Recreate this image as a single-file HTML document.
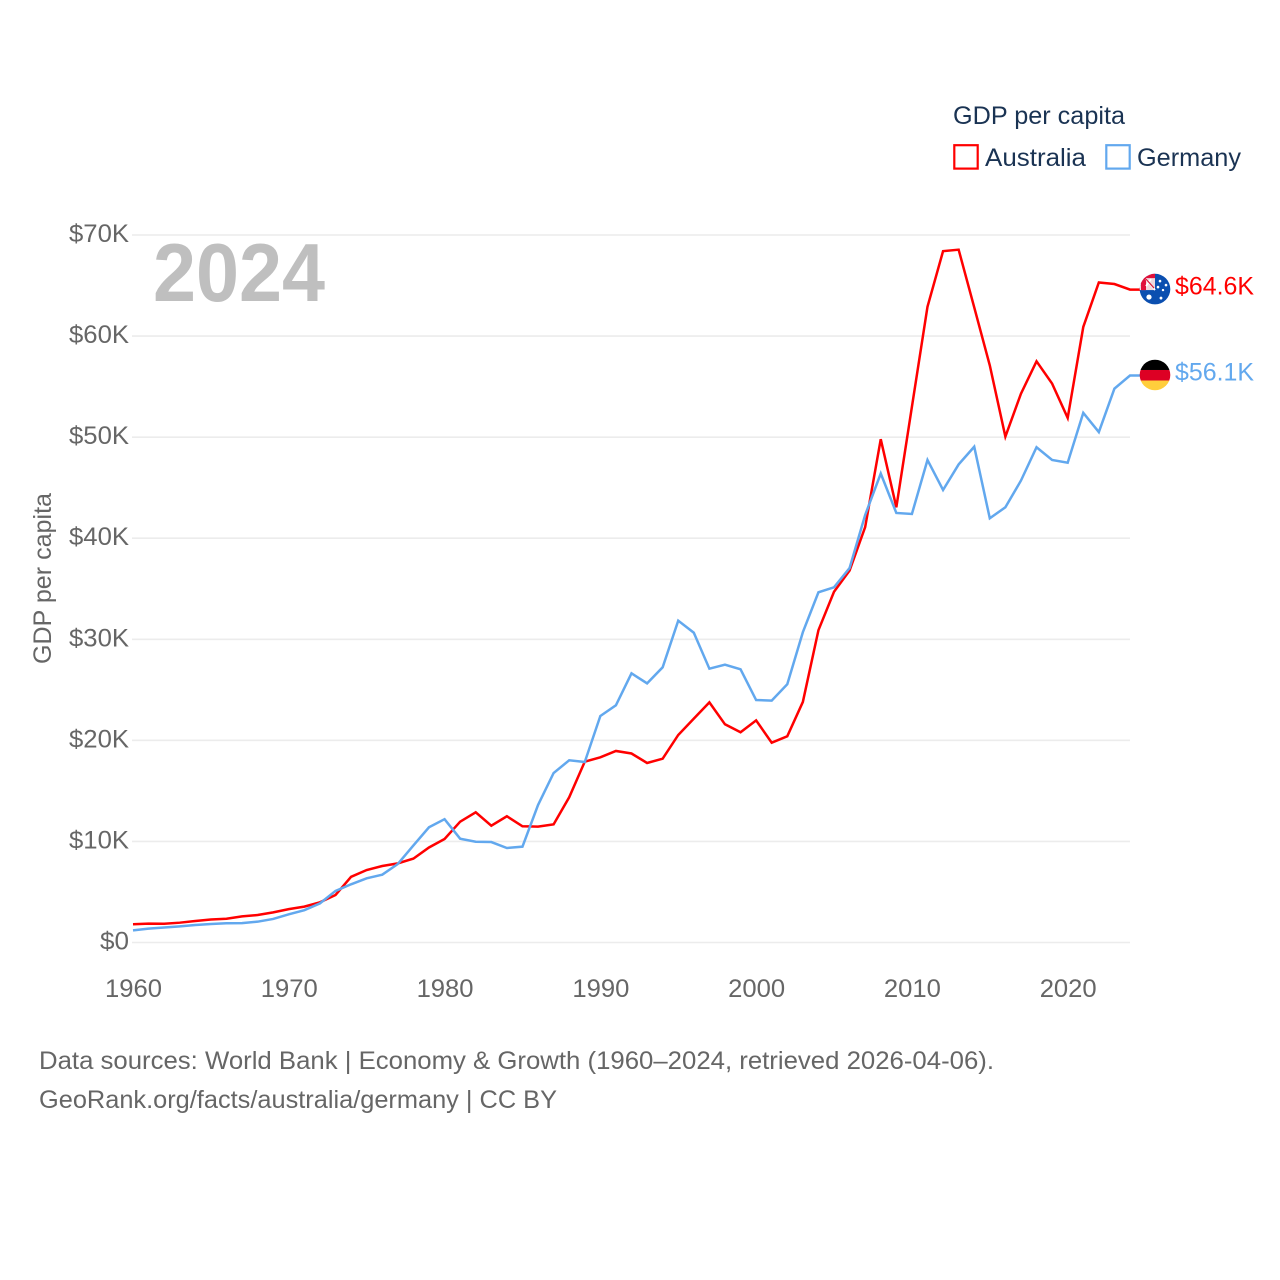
<!DOCTYPE html>
<html lang="en">
<head>
<meta charset="utf-8">
<title>GDP per capita: Australia and Germany</title>
<style>
  html, body { margin: 0; padding: 0; background: #ffffff; }
  svg { display: block; font-family: "Liberation Sans", sans-serif; }
</style>
</head>
<body>
<svg id="chart" xmlns="http://www.w3.org/2000/svg" width="1280" height="1280" viewBox="0 0 1280 1280">
  <defs>
    <clipPath id="flag-clip"><circle cx="0" cy="0" r="15.3"></circle></clipPath>
  </defs>
  <rect x="0" y="0" width="1280" height="1280" fill="#ffffff"></rect>

  <g id="grid"></g>
  <g id="y-ticks"></g>
  <g id="x-ticks"></g>

  <text transform="translate(51 664) rotate(-90)" font-size="25" fill="#666666" textLength="171" lengthAdjust="spacingAndGlyphs">GDP per capita</text>

  <text x="153" y="301" font-size="83" font-weight="700" fill="#bfbfbf" textLength="172" lengthAdjust="spacingAndGlyphs">2024</text>

  <g id="series"></g>

  <g id="flag-australia">
    <g clip-path="url(#flag-clip)">
      <rect x="-16" y="-16" width="32" height="32" fill="#0b4fb0"></rect>
      <rect x="-16" y="-16" width="16" height="17" fill="#f0d8dc"></rect>
      <path d="M-12 -16H0V-11H-9V1H-14V-12Z" fill="#e0103a"></path>
      <path d="M-9 -10L0 1M-9 -3L-4 -10" stroke="#ffffff" stroke-width="1.8" fill="none"></path>
      <path d="M-9 -10L-1 -1" stroke="#d81e3c" stroke-width="1.2" fill="none"></path>
      <circle cx="-6" cy="8" r="2.6" fill="#ffffff"></circle>
      <circle cx="5" cy="-8" r="1.3" fill="#ffffff"></circle>
      <circle cx="11" cy="-4" r="1.3" fill="#ffffff"></circle>
      <circle cx="3" cy="-2" r="1.3" fill="#ffffff"></circle>
      <circle cx="8" cy="1" r="1.2" fill="#ffffff"></circle>
      <circle cx="6" cy="9" r="1.4" fill="#ffffff"></circle>
    </g>
  </g>
  <g id="flag-germany">
    <g clip-path="url(#flag-clip)">
      <rect x="-16" y="-16" width="32" height="11" fill="#000000"></rect>
      <rect x="-16" y="-5" width="32" height="10.5" fill="#dd0024"></rect>
      <rect x="-16" y="5.5" width="32" height="11" fill="#ffce3c"></rect>
    </g>
  </g>

  <g id="end-labels"></g>

  <g>
    <text x="953" y="124" font-size="25" fill="#1a3353" textLength="172" lengthAdjust="spacingAndGlyphs">GDP per capita</text>
    <g>
      <rect x="954.3" y="145.2" width="23.4" height="23.4" fill="#ffffff" stroke="#ff0000" stroke-width="2.2"></rect>
      <text x="985" y="166" font-size="25" fill="#1a3353" textLength="101" lengthAdjust="spacingAndGlyphs">Australia</text>
    </g>
    <g>
      <rect x="1106.3" y="145.2" width="23.4" height="23.4" fill="#ffffff" stroke="#62a8ee" stroke-width="2.2"></rect>
      <text x="1137" y="166" font-size="25" fill="#1a3353" textLength="104" lengthAdjust="spacingAndGlyphs">Germany</text>
    </g>
  </g>

  <g>
    <text x="39" y="1069" font-size="25" fill="#666666" textLength="955" lengthAdjust="spacingAndGlyphs">Data sources: World Bank | Economy &amp; Growth (1960–2024, retrieved 2026-04-06).</text>
    <text x="39" y="1108" font-size="25" fill="#666666" textLength="518" lengthAdjust="spacingAndGlyphs">GeoRank.org/facts/australia/germany | CC BY</text>
  </g>
</svg>

<script>
const firstYear = 1960;
const lastYear = 2024;
const yTickValues = [0, 10, 20, 30, 40, 50, 60, 70];
const yTickLabels = ["$0", "$10K", "$20K", "$30K", "$40K", "$50K", "$60K", "$70K"];
const xTickYears = [1960, 1970, 1980, 1990, 2000, 2010, 2020];
const australiaValues = [
  1.81, 1.87, 1.85, 1.96, 2.13, 2.28, 2.35, 2.58, 2.72, 2.98,
  3.30, 3.55, 3.98, 4.70, 6.50, 7.17, 7.57, 7.83, 8.30, 9.40,
  10.24, 11.95, 12.88, 11.56, 12.49, 11.50, 11.46, 11.69, 14.37, 17.89,
  18.32, 18.95, 18.70, 17.76, 18.19, 20.53, 22.15, 23.76, 21.59, 20.80,
  21.98, 19.77, 20.40, 23.80, 30.90, 34.70, 36.80, 41.10, 49.80, 43.06,
  53.00, 62.90, 68.40, 68.55, 62.85, 57.10, 50.05, 54.30, 57.50, 55.30,
  51.90, 60.90, 65.30, 65.15, 64.60
];
const germanyValues = [
  1.20, 1.37, 1.48, 1.60, 1.73, 1.83, 1.90, 1.92, 2.06, 2.33,
  2.79, 3.20, 3.87, 5.10, 5.76, 6.35, 6.71, 7.77, 9.60, 11.40,
  12.20, 10.27, 9.97, 9.94, 9.35, 9.48, 13.60, 16.77, 18.03, 17.86,
  22.41, 23.47, 26.63, 25.64, 27.23, 31.84, 30.65, 27.09, 27.49, 27.03,
  23.99, 23.93, 25.55, 30.70, 34.65, 35.14, 37.05, 42.30, 46.40, 42.50,
  42.40, 47.74, 44.77, 47.30, 49.05, 41.97, 43.06, 45.70, 49.00, 47.74,
  47.47, 52.40, 50.50, 54.80, 56.10
];
const endLabels = ["$64.6K", "$56.1K"];

const NS = "http://www.w3.org/2000/svg";
const plotLeft = 133;
const plotRight = 1130;
const plotBottom = 942.5;
const plotTop = 235;
const yMax = 70;

function xScale(year) {
  return plotLeft + (year - firstYear) * (plotRight - plotLeft) / (lastYear - firstYear);
}
function yScale(value) {
  return plotBottom - value * (plotBottom - plotTop) / yMax;
}
function make(tag, attrs) {
  const el = document.createElementNS(NS, tag);
  for (const key in attrs) {
    el.setAttribute(key, attrs[key]);
  }
  return el;
}

const gridGroup = document.getElementById("grid");
const yTickGroup = document.getElementById("y-ticks");
yTickValues.forEach(function (value, i) {
  const line = make("line", {
    x1: plotLeft - 1, x2: plotRight,
    y1: yScale(value), y2: yScale(value),
    stroke: "#ececec", "stroke-width": 1.6
  });
  
  
  gridGroup.appendChild(line);

  const label = make("text", {
    x: 129, y: yScale(value) + 7,
    "text-anchor": "end", "font-size": 25, fill: "#666666",
    textLength: yTickLabels[i].length * 15 - (yTickLabels[i].length < 3 ? 1 : 0),
    lengthAdjust: "spacingAndGlyphs"
  });
  
  
  label.textContent = yTickLabels[i];
  yTickGroup.appendChild(label);
});

const xTickGroup = document.getElementById("x-ticks");
xTickYears.forEach(function (year) {
  const label = make("text", {
    x: xScale(year) + 0.5, y: 997,
    "text-anchor": "middle", "font-size": 25, fill: "#666666",
    textLength: 57, lengthAdjust: "spacingAndGlyphs"
  });
  
  
  label.textContent = String(year);
  xTickGroup.appendChild(label);
});

function linePath(values) {
  let d = "";
  values.forEach(function (value, i) {
    d += (i === 0 ? "M" : "L") + xScale(firstYear + i).toFixed(2) + " " + yScale(value).toFixed(2);
  });
  d += "L" + (plotRight + 10) + " " + yScale(values[values.length - 1]).toFixed(2);
  return d;
}

const seriesGroup = document.getElementById("series");

const australiaLine = make("path", {
  d: linePath(australiaValues), fill: "none", stroke: "#ff0000",
  "stroke-width": 2.5, "stroke-linejoin": "miter"
});


seriesGroup.appendChild(australiaLine);

const germanyLine = make("path", {
  d: linePath(germanyValues), fill: "none", stroke: "#62a8ee",
  "stroke-width": 2.5, "stroke-linejoin": "miter"
});


seriesGroup.appendChild(germanyLine);

const australiaEndY = yScale(australiaValues[australiaValues.length - 1]);
const germanyEndY = yScale(germanyValues[germanyValues.length - 1]);
document.getElementById("flag-australia").setAttribute("transform", "translate(1155 " + (australiaEndY - 0.5) + ")");
document.getElementById("flag-germany").setAttribute("transform", "translate(1155 " + (germanyEndY - 0.5) + ")");

const endGroup = document.getElementById("end-labels");

const australiaEnd = make("text", {
  x: 1175, y: australiaEndY + 5, "font-size": 25, fill: "#ff0000",
  textLength: 79, lengthAdjust: "spacingAndGlyphs"
});


australiaEnd.textContent = endLabels[0];
endGroup.appendChild(australiaEnd);

const germanyEnd = make("text", {
  x: 1175, y: germanyEndY + 5, "font-size": 25, fill: "#62a8ee",
  textLength: 79, lengthAdjust: "spacingAndGlyphs"
});


germanyEnd.textContent = endLabels[1];
endGroup.appendChild(germanyEnd);
</script>
</body>
</html>
